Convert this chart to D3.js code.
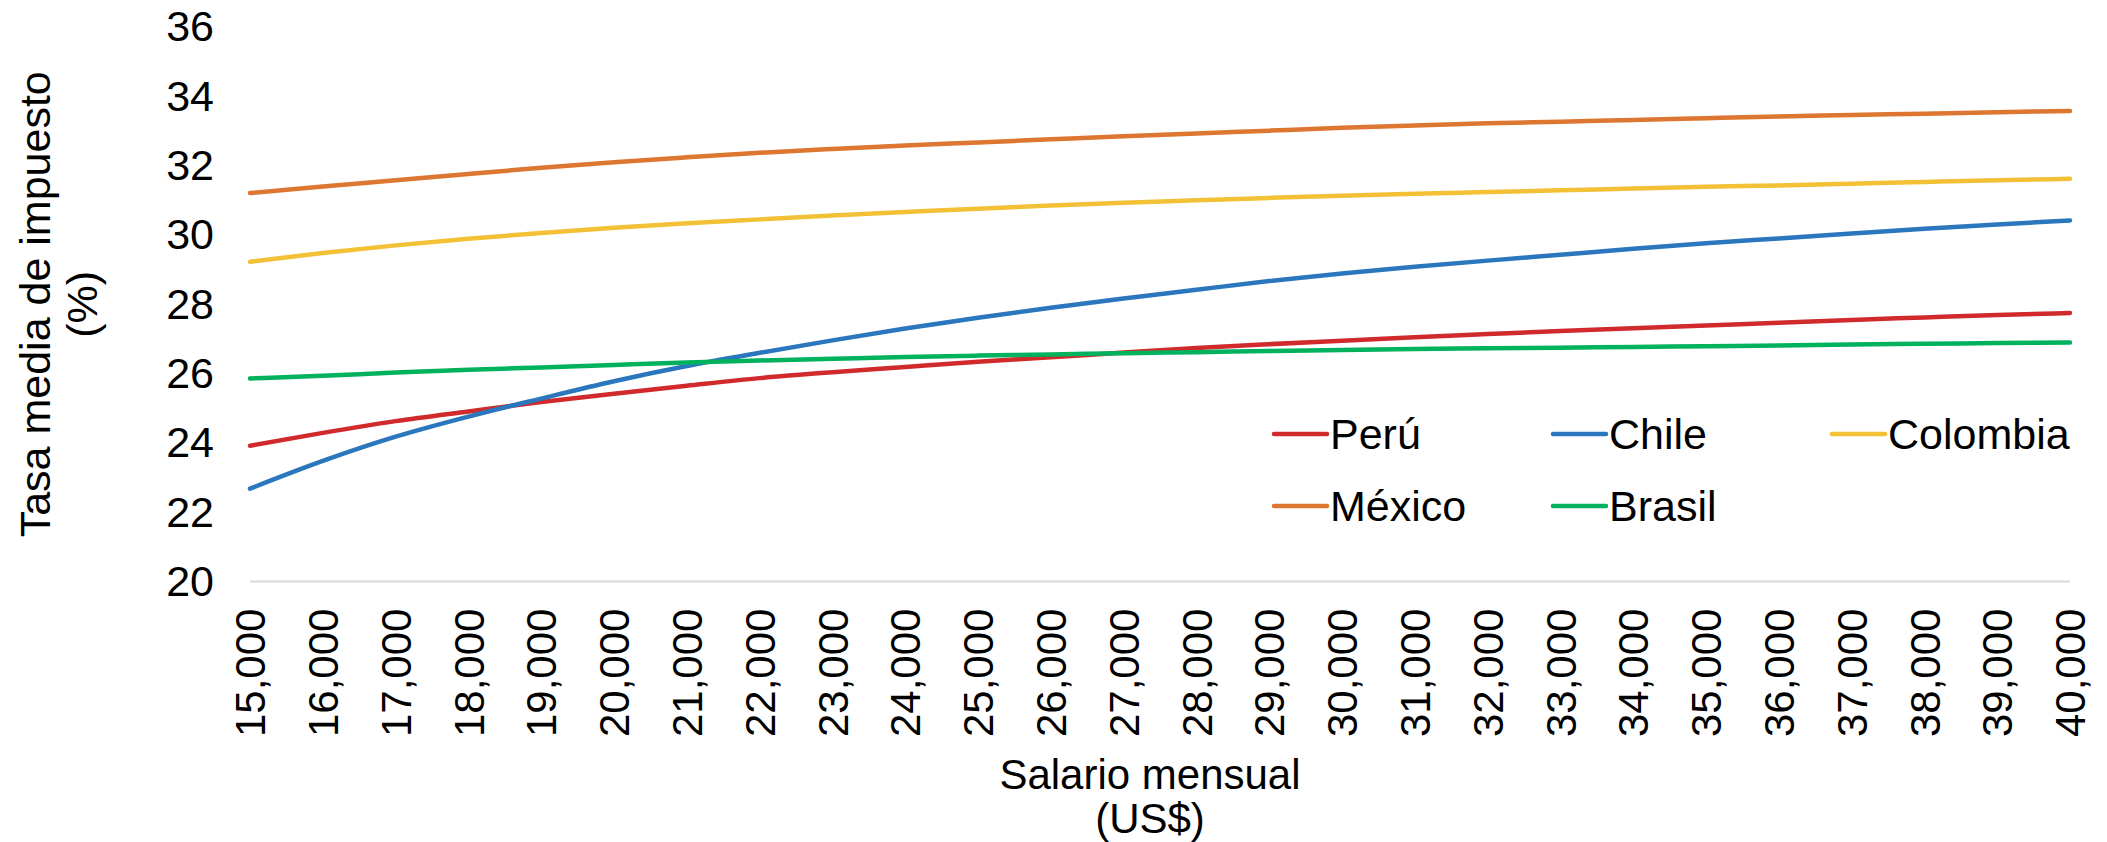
<!DOCTYPE html>
<html>
<head>
<meta charset="utf-8">
<script src="https://cdn.jsdelivr.net/npm/d3@7"></script>
<style>
  html, body { margin: 0; padding: 0; background: #fff; }
  svg { display: block; }
  text { font-family: "Liberation Sans", Arial, sans-serif; fill: #000; }
</style>
</head>
<body>
<svg id="chart" width="2107" height="842"></svg>
<script>
const salarios = [15000,16000,17000,18000,19000,20000,21000,22000,23000,24000,25000,26000,27000,28000,29000,30000,31000,32000,33000,34000,35000,36000,37000,38000,39000,40000];
const yTicks = [20,22,24,26,28,30,32,34,36];

const peru    = [23.92,24.29,24.63,24.91,25.18,25.42,25.65,25.87,26.04,26.19,26.34,26.47,26.61,26.74,26.85,26.95,27.05,27.14,27.23,27.31,27.39,27.47,27.55,27.62,27.69,27.75];
const chile   = [22.68,23.48,24.18,24.76,25.28,25.78,26.22,26.60,26.96,27.30,27.61,27.90,28.17,28.42,28.67,28.89,29.08,29.26,29.43,29.60,29.76,29.90,30.04,30.18,30.30,30.42];
const colombia= [29.23,29.48,29.70,29.89,30.06,30.21,30.34,30.45,30.56,30.66,30.76,30.85,30.93,31.00,31.07,31.13,31.19,31.24,31.29,31.34,31.39,31.43,31.48,31.53,31.58,31.62];
const mexico  = [31.21,31.40,31.58,31.76,31.94,32.10,32.24,32.37,32.48,32.58,32.67,32.76,32.85,32.93,33.01,33.09,33.16,33.22,33.27,33.32,33.37,33.42,33.46,33.50,33.54,33.58];
const brasil  = [25.86,25.94,26.03,26.11,26.18,26.25,26.32,26.38,26.43,26.48,26.52,26.55,26.59,26.62,26.65,26.68,26.71,26.73,26.75,26.77,26.79,26.81,26.84,26.86,26.88,26.90];

const seriesNames  = ["Perú","Chile","Colombia","México","Brasil"];
const seriesValues = [peru, chile, colombia, mexico, brasil];
const seriesColors = ["#D12A2C","#2A77BE","#F2C136","#DD7630","#00B15E"];

const svg = d3.select("#chart");
const FS = 42;
const plotLeft = 250, plotRight = 2070, plotTop = 27, plotBottom = 581.6;

const x = d3.scaleLinear().domain([15000, 40000]).range([plotLeft, plotRight]);
const y = d3.scaleLinear().domain([20, 36]).range([plotBottom, plotTop]);

// baseline gridline
svg.append("line")
  .attr("x1", plotLeft).attr("x2", plotRight)
  .attr("y1", y(20)).attr("y2", y(20))
  .attr("stroke", "#d9d9d9").attr("stroke-width", 2);

// y axis
const yAxis = svg.append("g")
  .attr("transform", `translate(${plotLeft},0)`)
  .call(d3.axisLeft(y).tickValues(yTicks).tickSize(0).tickPadding(36).tickFormat(d3.format("d")));
yAxis.select(".domain").remove();
yAxis.selectAll("text").attr("font-size", 43).attr("fill", "#000").style("font-family", '"Liberation Sans", Arial, sans-serif');

// x axis
const xAxis = svg.append("g")
  .attr("transform", `translate(0,${plotBottom})`)
  .call(d3.axisBottom(x).tickValues(salarios).tickSize(0).tickFormat(d3.format(",")));
xAxis.select(".domain").remove();
xAxis.selectAll("text")
  .attr("font-size", FS)
  .attr("fill", "#000")
  .style("font-family", '"Liberation Sans", Arial, sans-serif')
  .attr("text-anchor", "end")
  .attr("transform", "rotate(-90)")
  .attr("x", -27).attr("y", 0).attr("dy", "0.35em");

// lines
const line = d3.line()
  .x((d, i) => x(salarios[i]))
  .y(d => y(d))
  .curve(d3.curveMonotoneX);

seriesValues.forEach((vals, i) => {
  svg.append("path")
    .datum(vals)
    .attr("fill", "none")
    .attr("stroke", seriesColors[i])
    .attr("stroke-width", 4.5)
    .attr("stroke-linecap", "round")
    .attr("stroke-linejoin", "round")
    .attr("d", line);
});

// legend
const legX = [1272, 1551, 1830];
const legY = [434, 506];
seriesNames.forEach((name, i) => {
  const cx = legX[i % 3], cy = legY[Math.floor(i / 3)];
  const g = svg.append("g");
  g.append("line")
    .attr("x1", cx + 2).attr("x2", cx + 55)
    .attr("y1", cy).attr("y2", cy)
    .attr("stroke", seriesColors[i]).attr("stroke-width", 4.5)
    .attr("stroke-linecap", "round");
  g.append("text")
    .attr("x", cx + 58).attr("y", cy).attr("dy", "0.35em")
    .attr("font-size", 43)
    .text(name);
});

// y axis title
const yt = svg.append("text")
  .attr("transform", `translate(50,${(plotTop + plotBottom) / 2}) rotate(-90)`)
  .attr("text-anchor", "middle")
  .attr("font-size", 43);
yt.append("tspan").attr("x", 0).attr("y", 0).text("Tasa media de impuesto");
yt.append("tspan").attr("x", 0).attr("y", 47).text("(%)");

// x axis title
const xt = svg.append("text")
  .attr("text-anchor", "middle")
  .attr("font-size", FS);
xt.append("tspan").attr("x", 1150).attr("y", 789).text("Salario mensual");
xt.append("tspan").attr("x", 1150).attr("y", 833).text("(US$)");
</script>
</body>
</html>
